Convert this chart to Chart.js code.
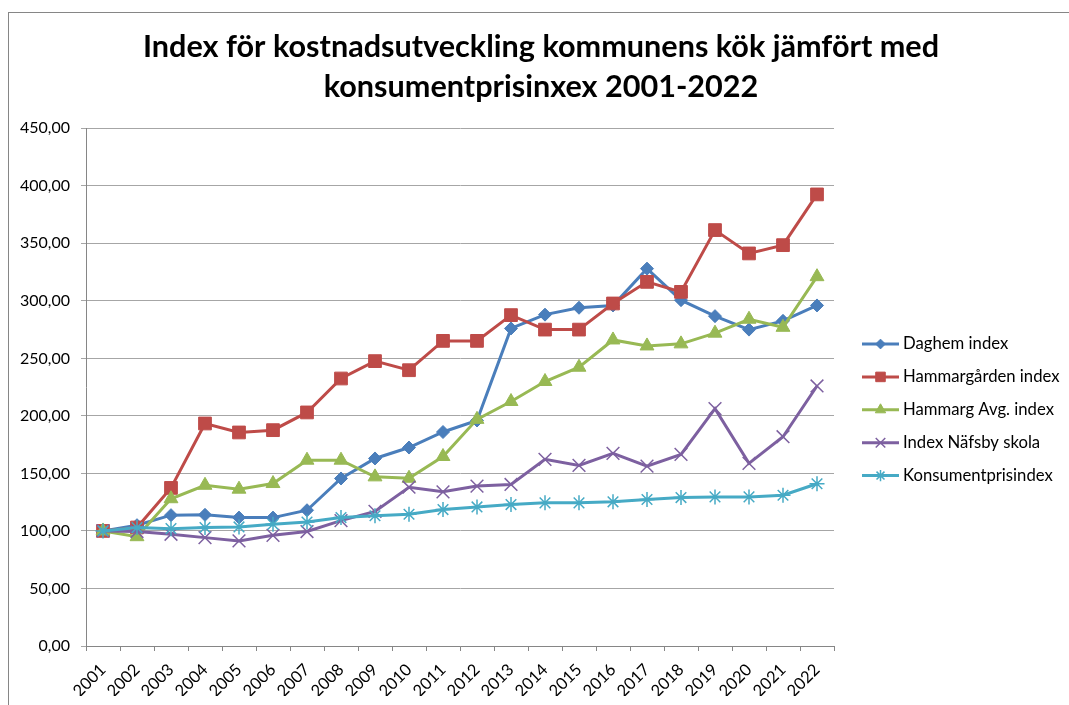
<!DOCTYPE html>
<html><head><meta charset="utf-8">
<script src="https://cdn.jsdelivr.net/npm/chart.js@4/dist/chart.umd.min.js"></script>
<style>html,body{margin:0;padding:0;background:#fff}</style>
</head><body>
<canvas id="c" width="1069" height="705"></canvas>
<script>
const categories = ['2001','2002','2003','2004','2005','2006','2007','2008','2009','2010','2011','2012','2013','2014','2015','2016','2017','2018','2019','2020','2021','2022'];
const daghemIndex = [100,105,113.7,114,111.6,111.6,118,145.6,163,172.5,186,196,276,288,294,296,328,300.6,286.7,275,282.6,296];
const hammargardenIndex = [100,103,137.4,193.4,185.6,187.6,203,232.5,247.6,239.7,265.2,265.2,287.6,275,275,297.7,316.5,307.8,361.5,341.2,348.4,392.5];
const hammargAvgIndex = [100,95,128,139.7,136.3,141.2,161.5,161.5,147,145.8,164.7,197,212.5,229.9,242.3,266,260.8,262.6,271.9,284,277,321];
const nafsbySkola = [100,99.5,97.1,94.2,91.3,96.2,99.5,109,117,138,134,139,140.4,162.2,157,167.4,156.4,166.5,206.3,158.7,181.9,226];
const konsumentprisindex = [100,102.9,102,103,103.5,105.8,107.8,111.6,113.2,114.5,118.6,120.9,122.9,124.4,124.4,125.3,127.3,129,129.6,129.6,131,141];
const seriesNames = ['Daghem index','Hammargården index','Hammarg Avg. index','Index Näfsby skola','Konsumentprisindex'];
const yTicks = [0,50,100,150,200,250,300,350,400,450];
const titleLines = ['Index för kostnadsutveckling kommunens kök jämfört med','konsumentprisinxex 2001-2022'];

const colors = ['#4A7EBB','#BE4B48','#98B954','#7D60A0','#46AAC5'];
const styles = [
  {pointStyle:'rectRot', radius:6.5, borderWidth:1},
  {pointStyle:'rect', radius:9, borderWidth:1},
  {pointStyle:'triangle', radius:8, borderWidth:1},
  {pointStyle:'crossRot', radius:9, borderWidth:1.5},
  {pointStyle:'star', radius:7.5, borderWidth:1.5}
];
const seriesData = [daghemIndex, hammargardenIndex, hammargAvgIndex, nafsbySkola, konsumentprisindex];

const datasets = seriesData.map((d,i)=>({
  label: seriesNames[i],
  data: d,
  borderColor: colors[i],
  backgroundColor: colors[i],
  borderWidth: 3,
  pointStyle: styles[i].pointStyle,
  pointRadius: styles[i].radius,
  pointHoverRadius: styles[i].radius,
  pointBorderWidth: styles[i].borderWidth,
  pointBorderColor: colors[i],
  pointBackgroundColor: colors[i],
  tension: 0,
  order: 10 - i
}));

const frameAndLegend = {
  id: 'frameAndLegend',
  beforeDraw(chart) {
    const ctx = chart.ctx;
    ctx.save();
    ctx.fillStyle = '#fff';
    ctx.fillRect(0,0,chart.width,chart.height);
    ctx.strokeStyle = '#868686';
    ctx.lineWidth = 1;
    ctx.strokeRect(8.5, 12.5, 1300, 1000);
    ctx.restore();
  },
  afterDraw(chart) {
    const ctx = chart.ctx;
    ctx.save();
    chart.data.datasets.forEach((ds, i) => {
      const y = 344 + i * 32.9;
      ctx.strokeStyle = ds.borderColor;
      ctx.lineWidth = 3;
      ctx.beginPath();
      ctx.moveTo(862, y);
      ctx.lineTo(899, y);
      ctx.stroke();
      ctx.fillStyle = ds.pointBackgroundColor;
      ctx.strokeStyle = ds.pointBorderColor;
      ctx.lineWidth = ds.pointBorderWidth;
      if (Chart.helpers && Chart.helpers.drawPoint) {
        Chart.helpers.drawPoint(ctx, {pointStyle: ds.pointStyle, radius: ds.pointRadius * 0.75, rotation: 0, borderWidth: ds.pointBorderWidth}, 880.5, y);
      }
      ctx.fillStyle = '#000';
      ctx.font = '16.7px Lato';
      ctx.textBaseline = 'middle';
      ctx.textAlign = 'left';
      ctx.fillText(ds.label, 903, y);
    });
    ctx.restore();
  }
};

new Chart(document.getElementById('c'), {
  type: 'line',
  data: { labels: categories, datasets },
  options: {
    responsive: false,
    animation: false,
    layout: { padding: { left: 13, right: 0, top: 0, bottom: 9 } },
    plugins: {
      legend: { display: false },
      tooltip: { enabled: false },
      title: {
        display: true,
        text: titleLines,
        color: '#000',
        font: { family: 'Lato', weight: 'bold', size: 30.6, lineHeight: 1.3 },
        padding: { top: 27, bottom: 21.7 }
      }
    },
    scales: {
      x: {
        offset: true,
        grid: { offset: true, drawOnChartArea: false, drawTicks: true, tickLength: 5, color: '#868686' },
        border: { display: true, color: '#868686', width: 1 },
        ticks: { color: '#000', font: { family: 'Lato', size: 16.5 }, maxRotation: 45, minRotation: 45, autoSkip: false, padding: 9 },
        afterFit: s => { s.height = 50; }
      },
      y: {
        min: 0, max: 450,
        afterBuildTicks: s => { s.ticks = yTicks.map(v => ({ value: v })); },
        grid: { color: '#a6a6a6', lineWidth: 1, drawTicks: true, tickLength: 5 },
        border: { display: true, color: '#868686', width: 1 },
        ticks: { color: '#000', font: { family: 'Lato', size: 16 }, padding: 11,
          callback: v => v.toFixed(2).replace('.', ',') },
        afterFit: s => { s.width = 73; }
      },
      yRight: {
        position: 'right',
        display: true,
        grid: { display: false, drawTicks: false },
        border: { display: false },
        ticks: { display: false },
        afterFit: s => { s.width = 235; }
      }
    }
  },
  plugins: [frameAndLegend]
});
</script>
</body></html>
